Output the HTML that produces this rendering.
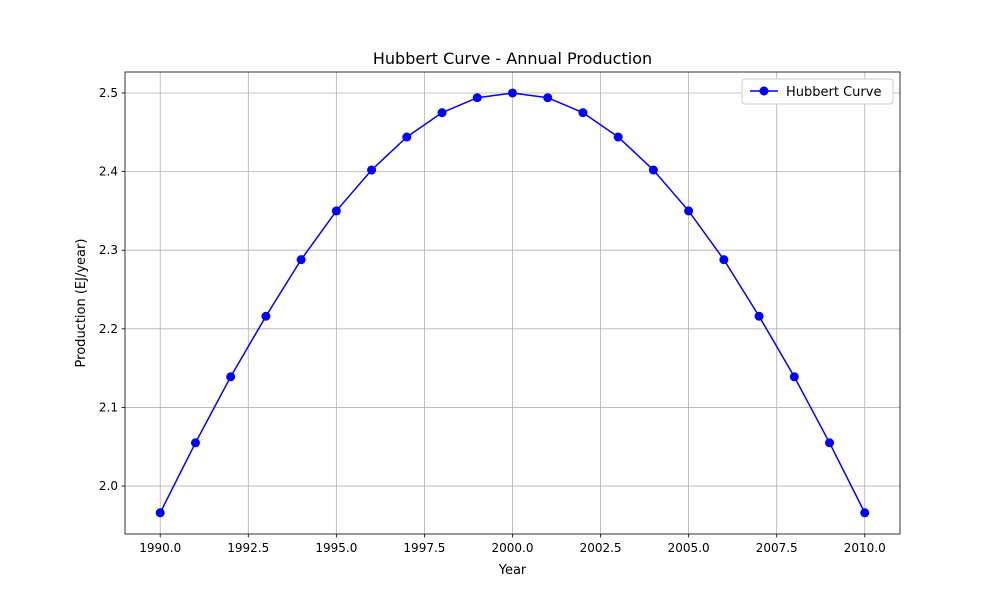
<!DOCTYPE html>
<html><head><meta charset="utf-8"><style>
body{margin:0;background:#fff;}
svg text{font-family:"DejaVu Sans","Liberation Sans",sans-serif;}
</style></head><body>
<svg id="chart" width="1000" height="600" xmlns="http://www.w3.org/2000/svg"></svg>
<script>
const years=[1990,1991,1992,1993,1994,1995,1996,1997,1998,1999,2000,2001,2002,2003,2004,2005,2006,2007,2008,2009,2010];
const production=[1.966,2.055,2.139,2.216,2.288,2.350,2.402,2.444,2.475,2.494,2.500,2.494,2.475,2.444,2.402,2.350,2.288,2.216,2.139,2.055,1.966];
const xTicks=[1990,1992.5,1995,1997.5,2000,2002.5,2005,2007.5,2010];
const xTickLabels=["1990.0","1992.5","1995.0","1997.5","2000.0","2002.5","2005.0","2007.5","2010.0"];
const yTicks=[2.0,2.1,2.2,2.3,2.4,2.5];
const yTickLabels=["2.0","2.1","2.2","2.3","2.4","2.5"];

const L=125,R=900,T=72,B=534;
const xmin=1989,xmax=2011;
const ymin=1.939,ymax=2.5267;
const sx=v=>L+(v-xmin)/(xmax-xmin)*(R-L);
const sy=v=>B-(v-ymin)/(ymax-ymin)*(B-T);
const svg=document.getElementById('chart');
const NS='http://www.w3.org/2000/svg';
function mk(tag,attrs,parent){const e=document.createElementNS(NS,tag);for(const k in attrs)e.setAttribute(k,attrs[k]);(parent||svg).appendChild(e);return e;}

xTicks.forEach((t,i)=>{
  const x=sx(t);
  const g=mk('line',{x1:x,x2:x,y1:T,y2:B,stroke:'#b0b0b0','stroke-width':0.8});
  
  
  mk('line',{x1:x,x2:x,y1:B,y2:B+3.5,stroke:'#000','stroke-width':0.8});
  const tx=mk('text',{x:x,y:B+18,'text-anchor':'middle','font-size':12});
  tx.textContent=xTickLabels[i];
  
  
});
yTicks.forEach((t,i)=>{
  const y=sy(t);
  const g=mk('line',{x1:L,x2:R,y1:y,y2:y,stroke:'#b0b0b0','stroke-width':0.8});
  
  
  mk('line',{x1:L-3.5,x2:L,y1:y,y2:y,stroke:'#000','stroke-width':0.8});
  const tx=mk('text',{x:L-7,y:y+4,'text-anchor':'end','font-size':12});
  tx.textContent=yTickLabels[i];
  
  
});

const pts=years.map((y,i)=>sx(y)+','+sy(production[i])).join(' ');
const line=mk('polyline',{points:pts,fill:'none',stroke:'#0000ff','stroke-width':1.5});


years.forEach((y,i)=>{
  const c=mk('circle',{cx:sx(y),cy:sy(production[i]),r:4.5,fill:'#0000ff'});
  
  
});

const frame=mk('rect',{x:L,y:T,width:R-L,height:B-T,fill:'none',stroke:'#000','stroke-width':0.8});



const title=mk('text',{x:(L+R)/2,y:64,'text-anchor':'middle','font-size':16});
title.textContent='Hubbert Curve - Annual Production';


const xl=mk('text',{x:(L+R)/2,y:574,'text-anchor':'middle','font-size':13});
xl.textContent='Year';


const yl=mk('text',{x:0,y:0,'text-anchor':'middle','font-size':13,transform:'translate(85,303) rotate(-90)'});
yl.textContent='Production (EJ/year)';



const lg=mk('g',{});


mk('rect',{x:742,y:79,width:151,height:25,rx:3,fill:'#fff',stroke:'#ccc','stroke-width':1},lg);
mk('line',{x1:750,x2:778,y1:91,y2:91,stroke:'#0000ff','stroke-width':1.5},lg);
mk('circle',{cx:764,cy:91,r:4.5,fill:'#0000ff'},lg);
const lt=mk('text',{x:786,y:96,'font-size':13},lg);
lt.textContent='Hubbert Curve';


</script>
</body></html>
